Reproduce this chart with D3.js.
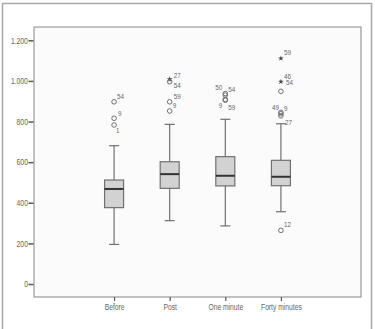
<!DOCTYPE html>
<html>
<head>
<meta charset="utf-8">
<script src="https://cdn.jsdelivr.net/npm/d3@7"></script>
<style>
body { margin:0; background:#fff; }
#chart { width:375px; height:329px; }
svg { opacity:0.995; }
text { font-family:"Liberation Sans",Arial,sans-serif; fill:#666; }
</style>
</head>
<body>
<div id="chart"></div>
<script>
var categories = ["Before", "Post", "One minute", "Forty minutes"];
var whiskerLow = [195, 312, 286, 356];
var q1 = [376, 471, 483, 484];
var median = [468, 541, 533, 528];
var q3 = [512, 602, 627, 609];
var whiskerHigh = [681, 786, 811, 789];

// outliers: category index, value, case label, kind (o = outlier, * = extreme)
var outCat = [0, 0, 0, 1, 1, 1, 1, 2, 2, 2, 2, 3, 3, 3, 3, 3, 3, 3];
var outValue = [897, 816, 783, 1008, 996, 897, 852, 938, 930, 909, 905, 1111, 996, 949, 845, 838, 828, 264];
var outLabel = ["54", "9", "1", "27", "54", "59", "9", "50", "54", "9", "59", "59", "46", "54", "49", "9", "27", "12"];
var outKind = ["o", "o", "o", "*", "o", "o", "o", "o", "o", "o", "o", "*", "*", "o", "o", "o", "o", "o"];

var yTicks = [0, 200, 400, 600, 800, 1000, 1200];

var width = 375, height = 329;
var plot = {left:34, right:361, top:27, bottom:297};

var svg = d3.select("#chart").append("svg")
	.attr("width", width)
	.attr("height", height);

// outer frame
svg.append("path")
	.attr("d", "M2.5,329 V3.5 H371.5 V329")
	.attr("fill", "none")
	.attr("stroke", "#a8a8a8")
	.attr("stroke-width", 1.5);

svg.append("rect")
	.attr("x", plot.left)
	.attr("y", plot.top)
	.attr("width", plot.right - plot.left)
	.attr("height", plot.bottom - plot.top)
	.attr("fill", "#fbfbfb")
	.attr("stroke", "#9a9a9a")
	.attr("stroke-width", 1.2);

var x = d3.scalePoint()
	.domain(categories)
	.range([plot.left, plot.right])
	.padding(1.44);

var y = d3.scaleLinear()
	.domain([0, 1200])
	.range([284, 40.3]);

var yAxis = d3.axisLeft(y)
	.tickValues(yTicks)
	.tickSizeInner(5)
	.tickSizeOuter(0)
	.tickPadding(2)
	.tickFormat(function(d){ return d3.format(",")(d).replace(",", "."); });

var gy = svg.append("g")
	.attr("transform", "translate(" + (plot.left - 0.5) + ",0)")
	.call(yAxis);
gy.select(".domain").remove();
gy.selectAll("line").attr("stroke", "#555").attr("stroke-width", 1.5);
gy.selectAll("text")
	.attr("font-size", "8.5px")
	.attr("transform", "scale(0.8,1)");

var xAxis = d3.axisBottom(x)
	.tickSizeInner(4)
	.tickSizeOuter(0)
	.tickPadding(3);

var gx = svg.append("g")
	.attr("transform", "translate(0," + plot.bottom + ")")
	.call(xAxis);
gx.select(".domain").remove();
gx.selectAll("line").attr("stroke", "#555").attr("stroke-width", 1.2);
gx.selectAll("text")
	.attr("font-size", "9px")
	.attr("transform", "scale(0.75,1)");

var boxW = 19, capW = 10;

var boxes = svg.append("g").selectAll("g")
	.data(categories)
	.enter()
	.append("g");

boxes.append("line")
	.attr("x1", function(d){ return x(d); })
	.attr("x2", function(d){ return x(d); })
	.attr("y1", function(d,i){ return y(whiskerLow[i]); })
	.attr("y2", function(d,i){ return y(whiskerHigh[i]); })
	.attr("stroke", "#707070")
	.attr("stroke-width", 1.2);

boxes.selectAll(".cap")
	.data(function(d,i){ return [{c:d, v:whiskerLow[i]}, {c:d, v:whiskerHigh[i]}]; })
	.enter()
	.append("line")
	.attr("class", "cap")
	.attr("x1", function(d){ return x(d.c) - capW/2; })
	.attr("x2", function(d){ return x(d.c) + capW/2; })
	.attr("y1", function(d){ return y(d.v); })
	.attr("y2", function(d){ return y(d.v); })
	.attr("stroke", "#707070")
	.attr("stroke-width", 1.2);

boxes.append("rect")
	.attr("x", function(d){ return x(d) - boxW/2; })
	.attr("y", function(d,i){ return y(q3[i]); })
	.attr("width", boxW)
	.attr("height", function(d,i){ return y(q1[i]) - y(q3[i]); })
	.attr("fill", "#d2d2d2")
	.attr("stroke", "#707070")
	.attr("stroke-width", 1.2);

boxes.append("line")
	.attr("x1", function(d){ return x(d) - boxW/2; })
	.attr("x2", function(d){ return x(d) + boxW/2; })
	.attr("y1", function(d,i){ return y(median[i]); })
	.attr("y2", function(d,i){ return y(median[i]); })
	.attr("stroke", "#333")
	.attr("stroke-width", 2);

// label offsets [dx, dy, anchor]
var labelPos = [
	[3, -3, "start"], [4, -2, "start"], [2, 8, "start"],
	[4, -1, "start"], [4, 6, "start"], [4, -3, "start"], [3, -3, "start"],
	[-3, -4, "end"], [3, -3, "start"], [-3, 9, "end"], [3, 10, "start"],
	[3, -3, "start"], [3, -3, "start"], [5, -6, "start"], [-2, -2, "end"], [3, -3, "start"], [4, 9, "start"], [3, -3, "start"]
];

var outG = svg.append("g");
outValue.forEach(function(v, i){
	var cx = x(categories[outCat[i]]), cy = y(v);
	if (outKind[i] === "*") {
		outG.append("path")
			.attr("d", d3.symbol().type(d3.symbolStar).size(10)())
			.attr("transform", "translate(" + cx + "," + cy + ")")
			.attr("fill", "#444");
	} else {
		outG.append("circle")
			.attr("cx", cx)
			.attr("cy", cy)
			.attr("r", 2.3)
			.attr("fill", "none")
			.attr("stroke", "#707070")
			.attr("stroke-width", 1);
	}
	var p = labelPos[i];
	outG.append("text")
		.attr("transform", "translate(" + (cx + p[0]) + "," + (cy + p[1]) + ") scale(0.9,1)")
		.attr("text-anchor", p[2])
		.attr("font-size", "7px")
		.text(outLabel[i]);
});
</script>
</body>
</html>
